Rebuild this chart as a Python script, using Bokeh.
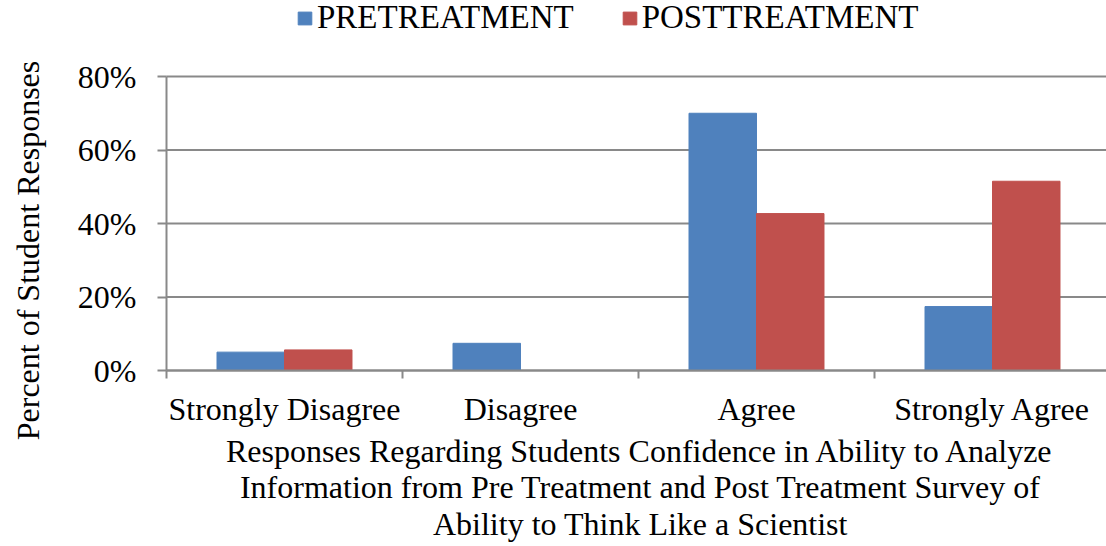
import math
from bokeh.plotting import figure
from bokeh.models import (Range1d, FixedTicker, NumeralTickFormatter, Legend,
                          ColumnDataSource, Label)
from bokeh.embed import file_html
from bokeh.resources import INLINE

# Survey responses (share of students)
categories = ["Strongly Disagree", "Disagree", "Agree", "Strongly Agree"]
pretreatment = [0.050, 0.074, 0.700, 0.174]
posttreatment = [0.056, 0.0, 0.427, 0.515]
y_ticks = [0.0, 0.2, 0.4, 0.6, 0.8]
series_names = ["PRETREATMENT", "POSTTREATMENT"]
x_title_lines = [
    "Responses Regarding Students Confidence in Ability to Analyze",
    "Information from Pre Treatment and Post Treatment Survey of",
    "Ability to Think Like a Scientist",
]
y_title = "Percent of Student Responses"

FONT = "Liberation Serif"
FS = "32px"
GRID = "#898989"
BLUE = "#4F81BD"
RED = "#C0504D"
BAR_W = 0.286

# page geometry (pixels): plotting area spans x 166..1106, y 76..370
W, H = 1106, 546
LEFT, TOP, BOTTOM = 166, 76, 370
CAT_PX = 236
Y_MAX = y_ticks[-1]
px_per_unit_y = (BOTTOM - TOP) / Y_MAX
x_start = -LEFT / CAT_PX
x_end = (W - LEFT) / CAT_PX
y_start = -(H - BOTTOM) / px_per_unit_y
y_end = Y_MAX + TOP / px_per_unit_y

centers = [i + 0.5 for i in range(len(categories))]
src = ColumnDataSource(dict(
    pre_x=[c - BAR_W / 2 for c in centers],
    post_x=[c + BAR_W / 2 for c in centers],
    pre=pretreatment,
    post=posttreatment,
))

p = figure(width=W, height=H, output_backend="svg", toolbar_location=None,
           x_range=Range1d(x_start, x_end), y_range=Range1d(y_start, y_end),
           min_border=0)
p.outline_line_color = None
p.background_fill_color = "white"
p.xgrid.visible = False
p.ygrid.visible = False

# horizontal gridlines across the plotting area
p.segment(x0=[0] * len(y_ticks), x1=[x_end] * len(y_ticks), y0=y_ticks, y1=y_ticks,
          line_color=GRID, line_width=2)

r_pre = p.vbar(x="pre_x", top="pre", width=BAR_W, source=src,
               fill_color=BLUE, line_color=BLUE)
r_post = p.vbar(x="post_x", top="post", width=BAR_W, source=src,
                fill_color=RED, line_color=RED)

# x axis: category names at centres, tick marks on the boundaries
xa = p.xaxis[0]
xa.fixed_location = 0
xa.bounds = (0, x_end)
xa.ticker = FixedTicker(ticks=centers, minor_ticks=list(range(len(categories) + 1)))
xa.major_label_overrides = {c: name for c, name in zip(centers, categories)}
xa.major_tick_line_color = None
xa.major_tick_out = 8
xa.major_tick_in = 0
xa.minor_tick_out = 8
xa.minor_tick_in = 0
xa.minor_tick_line_color = GRID
xa.minor_tick_line_width = 2
xa.axis_line_color = GRID
xa.axis_line_width = 2
xa.major_label_standoff = 12
xa.major_label_text_font = FONT
xa.major_label_text_font_size = FS
xa.major_label_text_color = "black"

ya = p.yaxis[0]
ya.fixed_location = 0
ya.bounds = (0, Y_MAX)
ya.ticker = FixedTicker(ticks=y_ticks, minor_ticks=[])
ya.formatter = NumeralTickFormatter(format="0%")
ya.major_tick_out = 9
ya.major_tick_in = 0
ya.major_tick_line_color = GRID
ya.major_tick_line_width = 2
ya.axis_line_color = GRID
ya.axis_line_width = 2
ya.major_label_standoff = 21
ya.major_label_text_font = FONT
ya.major_label_text_font_size = FS
ya.major_label_text_color = "black"

# axis titles
for i, line in enumerate(x_title_lines):
    p.add_layout(Label(x=640, y=H - 450 - 36.5 * i, x_units="screen", y_units="screen",
                       text=line, text_font=FONT, text_font_size=FS,
                       text_color="black", text_align="center",
                       text_baseline="alphabetic"))
p.add_layout(Label(x=27, y=H - 250, x_units="screen", y_units="screen",
                   text=y_title, angle=math.pi / 2, text_font=FONT,
                   text_font_size=FS, text_color="black", text_align="center",
                   text_baseline="middle"))

legend = Legend(items=[(series_names[0], [r_pre]), (series_names[1], [r_post])],
                orientation="horizontal", location=(296, H - 36),
                glyph_width=17, glyph_height=16, label_standoff=4, spacing=47,
                label_text_font=FONT, label_text_font_size="33px",
                label_text_color="black", border_line_color=None,
                background_fill_alpha=0, padding=0, margin=0)
p.add_layout(legend)

open("out.html", "w").write(file_html(p, INLINE))
